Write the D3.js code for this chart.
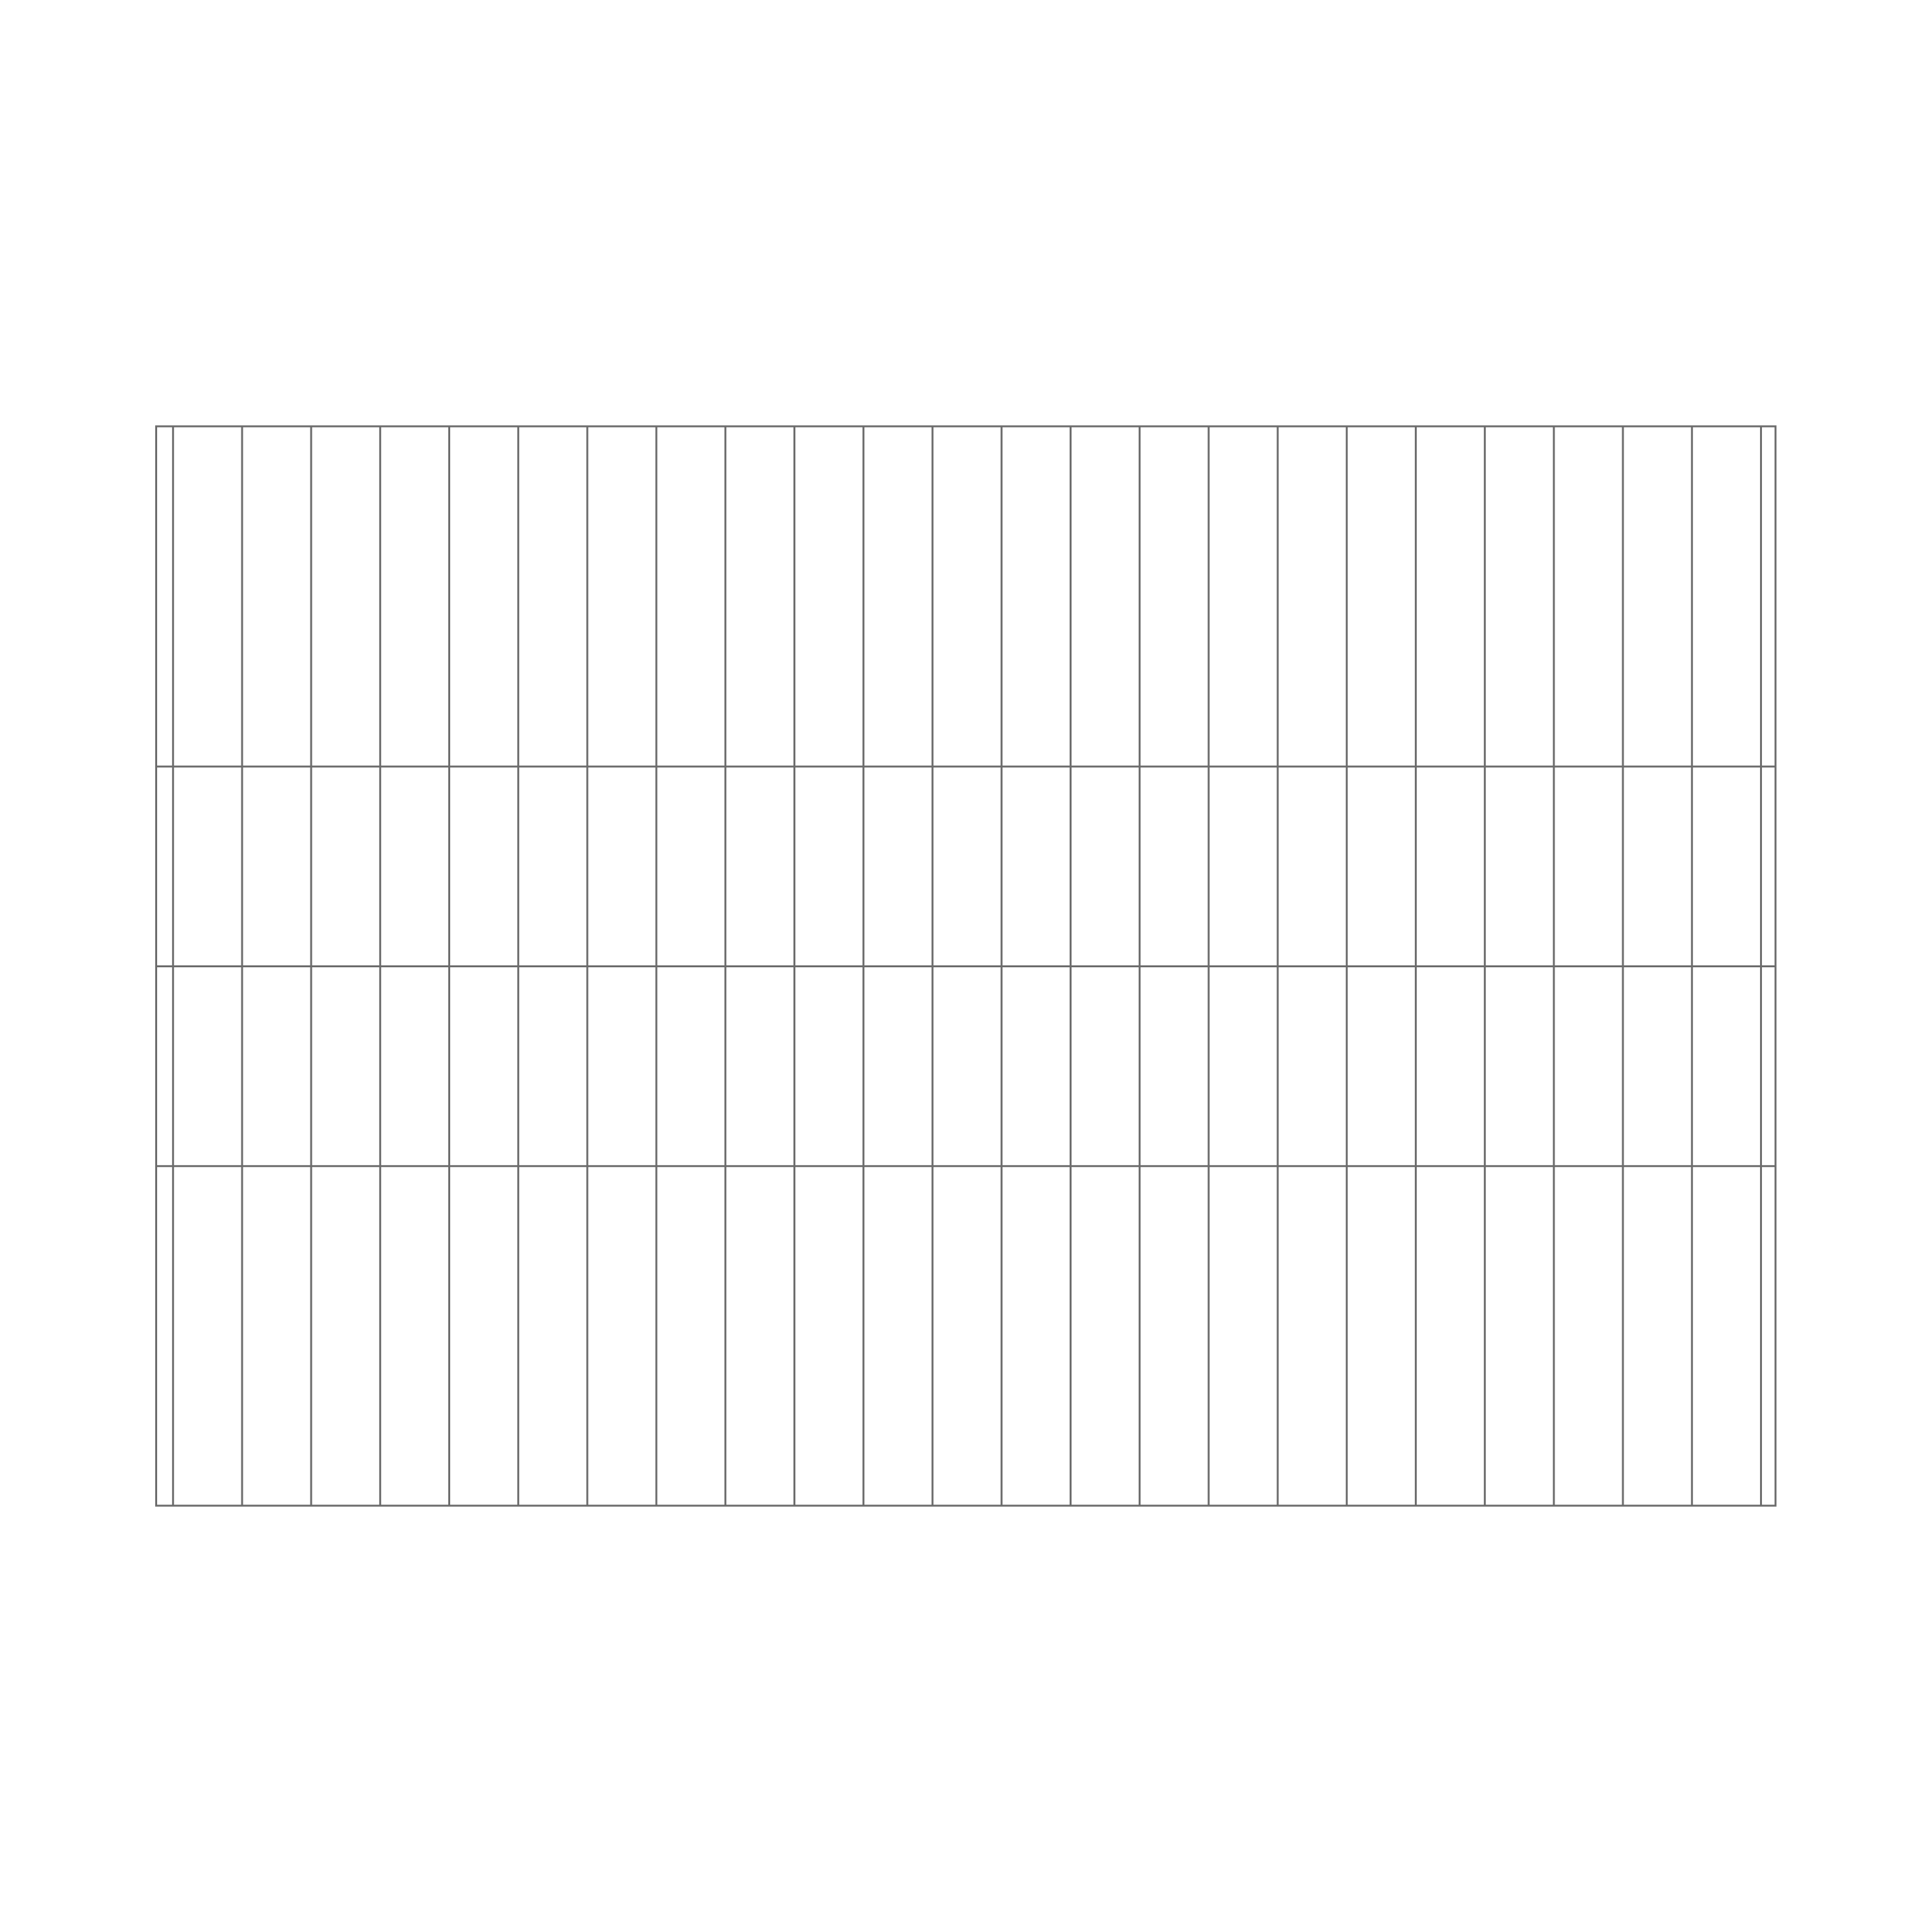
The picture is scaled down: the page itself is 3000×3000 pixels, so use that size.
<!DOCTYPE html>
<html>
<head>
<meta charset="utf-8">
<script src="https://cdn.jsdelivr.net/npm/d3@7"></script>
<style>
  body { margin: 0; background: #fff; }
  .grid line { stroke: #6c6c6c; stroke-width: 3; }
  .grid path { display: none; }
</style>
</head>
<body>
<div id="chart-area"></div>
<script>
// grid positions (no marks or labels are drawn in the reference)
var xTicks = [0, 1, 2, 3, 4, 5, 6, 7, 8, 9, 10, 11, 12, 13, 14, 15, 16, 17, 18, 19, 20, 21, 22, 23];
var xDomain = [-0.24, 23.215];
var yTicks = [-1, 0, 1];
var yDomain = [-2.7, 2.7];

var margin = { left: 242.5, right: 243, top: 662, bottom: 662 };
var width = 3000 - margin.left - margin.right,
    height = 3000 - margin.top - margin.bottom;

var svg = d3.select('#chart-area')
    .append('svg')
        .attr('width', 3000)
        .attr('height', 3000);

var g = svg.append('g')
    .attr('transform', 'translate(' + margin.left + ',' + margin.top + ')');

// scales
var xScale = d3.scaleLinear().domain(xDomain).range([0, width]);
var yScale = d3.scaleLinear().domain(yDomain).range([height, 0]);

// vertical grid
var xGrid = d3.axisBottom(xScale).tickValues(xTicks).tickSize(-height).tickFormat('');
g.append('g').attr('class', 'x grid').attr('transform', 'translate(0,' + height + ')').call(xGrid);

// horizontal grid
var yGrid = d3.axisLeft(yScale).tickValues(yTicks).tickSize(-width).tickFormat('');
g.append('g').attr('class', 'y grid').call(yGrid);

// frame
g.append('rect')
    .attr('x', 0)
    .attr('y', 0)
    .attr('width', width)
    .attr('height', height)
    .attr('fill', 'none')
    .attr('stroke', '#6c6c6c')
    .attr('stroke-width', 3);
</script>
</body>
</html>
